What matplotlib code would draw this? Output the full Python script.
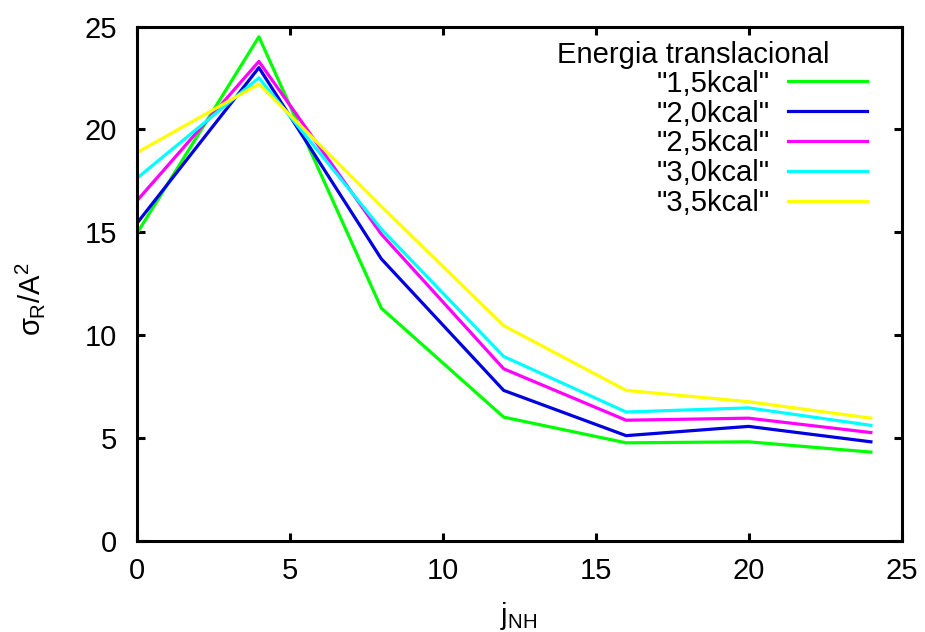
import numpy as np
import matplotlib.pyplot as plt

plt.rcParams['font.family'] = ['Liberation Sans', 'DejaVu Sans']
plt.rcParams['mathtext.fontset'] = 'custom'
plt.rcParams['mathtext.rm'] = 'Liberation Sans'
plt.rcParams['mathtext.it'] = 'Liberation Sans'

# datos
j_nh = [0, 4, 8, 12, 16, 20, 24]
sigma_15 = [14.9, 24.5, 11.3, 6.0, 4.75, 4.8, 4.3]
sigma_20 = [15.4, 23.0, 13.7, 7.3, 5.1, 5.55, 4.8]
sigma_25 = [16.5, 23.3, 14.9, 8.35, 5.85, 5.95, 5.25]
sigma_30 = [17.6, 22.5, 15.15, 8.95, 6.25, 6.45, 5.6]
sigma_35 = [18.85, 22.2, 16.25, 10.45, 7.3, 6.75, 5.95]

etiquetas = ['"1,5kcal"', '"2,0kcal"', '"2,5kcal"', '"3,0kcal"', '"3,5kcal"']
colores = ['#00ff00', '#0000e0', '#ff00ff', '#00ffff', '#ffff00']
series = [sigma_15, sigma_20, sigma_25, sigma_30, sigma_35]

fs = 21

fig = plt.figure(figsize=(9.25, 6.32), dpi=100)
ax = fig.add_axes([136.5 / 925, (632 - 540.5) / 632, 765 / 925, 514 / 632])

for s, c, lab in zip(series, colores, etiquetas):
    ax.plot(j_nh, s, color=c, linewidth=2.3, label=lab)

ax.set_xlim(0, 25)
ax.set_ylim(0, 25)
ax.set_xticks(np.arange(0, 26, 5))
ax.set_yticks(np.arange(0, 26, 5))

for sp in ax.spines.values():
    sp.set_linewidth(2.2)
ax.tick_params(direction='in', length=6, width=2.2, top=True, right=True,
               labelsize=fs)
ax.tick_params(axis='x', pad=12)
ax.tick_params(axis='y', pad=14)

ax.set_xlabel(r'j$_{\mathrm{NH}}$', fontsize=fs, labelpad=11)
ax.set_ylabel(r'$\sigma_{\mathrm{R}}$/A$^{2}$', fontsize=fs, labelpad=0)
ax.yaxis.set_label_coords(-0.117, 0.47)

ax.text(0.728, 0.944, 'Energia translacional', transform=ax.transAxes,
        fontsize=fs, ha='center', va='center')
leg = ax.legend(loc='upper right', bbox_to_anchor=(0.955, 0.916), frameon=False,
                markerfirst=False, fontsize=fs, handlelength=2.7,
                handletextpad=0.62, labelspacing=0.065, borderpad=0,
                borderaxespad=0)

fig.savefig('out.png', dpi=100)
